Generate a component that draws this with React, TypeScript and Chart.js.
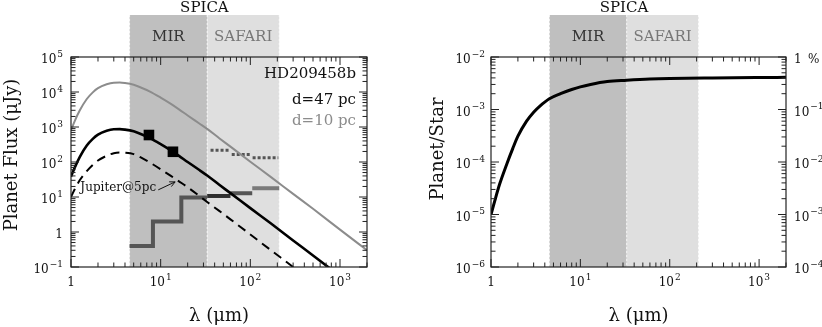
import React, { useEffect, useRef } from "react";
import { Chart, registerables } from "chart.js";

Chart.register(...registerables);

// ---------------- data ----------------
const wavelength = [1, 1.1, 1.25, 1.5, 1.75, 2, 2.5, 3, 3.5, 4, 5, 6, 7.5, 10, 13, 16, 20, 27, 33, 45, 60, 100, 170, 300, 500, 1000, 2000];
const fluxAt10pc = [813, 1479, 2951, 6310, 9772, 12882, 16596, 18408, 18621, 17989, 16032, 13490, 10471, 6918, 4571, 3199, 2138, 1259, 881, 479, 275, 102, 37, 12.3, 4.6, 1.17, 0.3];
const fluxAt47pc = [38, 69, 138, 295, 457, 603, 776, 861, 871, 841, 750, 631, 490, 324, 214, 150, 100, 59, 41, 22.4, 12.9, 4.8, 1.74, 0.575, 0.214, 0.055, 0.0141];
const fluxJupiter5pc = [10, 16.6, 30, 55, 83, 110, 151, 178, 186, 184, 168, 135, 98, 62, 40, 28, 19, 10.7, 7.2, 4.0, 2.3, 0.85, 0.3, 0.1, 0.036, 0.0093, 0.0024];

const photometryWavelength = [7.4, 13.7];
const photometryFlux = [590, 196];

const mirBinEdges = [4.5, 8.2, 17, 33];
const mirSensitivity = [0.4, 2.0, 9.6];
const safariBinEdges = [33, 60, 105, 210];
const safariSensitivity = [10.7, 12.8, 17.8];
const safariLineStart = [36, 62, 106];
const safariLineEnd = [59, 100, 205];
const safariLineFlux = [215, 165, 133];

const ratioWavelength = [1, 1.1, 1.25, 1.5, 1.75, 2, 2.5, 3, 3.5, 4.5, 6, 8, 10, 13, 20, 33, 60, 100, 300, 1000, 2000];
const planetStarRatio = [1.0e-5, 1.8e-5, 3.8e-5, 9.1e-5, 1.8e-4, 3.1e-4, 6.0e-4, 8.9e-4, 1.15e-3, 1.6e-3, 2.0e-3, 2.4e-3, 2.7e-3, 3.0e-3, 3.4e-3, 3.6e-3, 3.8e-3, 3.9e-3, 4.0e-3, 4.07e-3, 4.1e-3];

const mirBand = [4.5, 33];
const safariBand = [33, 210];
const xTickExponents = [0, 1, 2, 3];
const fluxTickExponents = [-1, 0, 1, 2, 3, 4, 5];
const ratioTickExponents = [-6, -5, -4, -3, -2];
const percentTickExponents = [-4, -3, -2, -1, 0];

// ---------------- styling helpers ----------------
const SERIF = '"DejaVu Serif", "Liberation Serif", serif';
const TICK_FONT = 12;
const TITLE_FONT = 18;

function drawPower(ctx: CanvasRenderingContext2D, exp: number, x: number, y: number, align: "left" | "right" | "center") {
  ctx.save();
  ctx.fillStyle = "#111";
  ctx.textBaseline = "middle";
  ctx.textAlign = "left";
  const baseFont = `${TICK_FONT}px ${SERIF}`;
  const supFont = `${Math.round(TICK_FONT * 0.72)}px ${SERIF}`;
  const base = exp === 0 ? "1" : "10";
  const sup = exp === 0 ? "" : exp < 0 ? "\u2212" + -exp : String(exp);
  ctx.font = baseFont;
  const wb = ctx.measureText(base).width;
  ctx.font = supFont;
  const ws = sup ? ctx.measureText(sup).width + 1 : 0;
  const total = wb + ws;
  const left = align === "left" ? x : align === "right" ? x - total : x - total / 2;
  ctx.font = baseFont;
  ctx.fillText(base, left, y);
  if (sup) {
    ctx.font = supFont;
    ctx.fillText(sup, left + wb + 1, y - TICK_FONT * 0.45);
  }
  ctx.restore();
}

function logValues(min: number, max: number) {
  const out: { v: number; major: boolean }[] = [];
  const d0 = Math.floor(Math.log10(min));
  const d1 = Math.ceil(Math.log10(max));
  for (let d = d0; d <= d1; d++) {
    for (let k = 1; k <= 9; k++) {
      const v = k * Math.pow(10, d);
      if (v >= min * (1 - 1e-9) && v <= max * (1 + 1e-9)) out.push({ v, major: k === 1 });
    }
  }
  return out;
}

function seg(ctx: CanvasRenderingContext2D, x0: number, y0: number, x1: number, y1: number) {
  ctx.beginPath();
  ctx.moveTo(x0, y0);
  ctx.lineTo(x1, y1);
  ctx.stroke();
}

function drawFrame(chart: any, leftId: string, rightId: string) {
  const { ctx, chartArea: a } = chart;
  ctx.save();
  ctx.strokeStyle = "#222";
  ctx.lineWidth = 1.2;
  ctx.strokeRect(a.left, a.top, a.right - a.left, a.bottom - a.top);
  ctx.lineWidth = 1;
  const xs = chart.scales.x;
  for (const t of logValues(xs.min, xs.max)) {
    const p = xs.getPixelForValue(t.v);
    const len = t.major ? 8 : 4.5;
    seg(ctx, p, a.bottom, p, a.bottom - len);
    seg(ctx, p, a.top, p, a.top + len);
  }
  const yl = chart.scales[leftId];
  for (const t of logValues(yl.min, yl.max)) {
    const p = yl.getPixelForValue(t.v);
    const len = t.major ? 8 : 4.5;
    seg(ctx, a.left, p, a.left + len, p);
  }
  const yr = chart.scales[rightId];
  for (const t of logValues(yr.min, yr.max)) {
    const p = yr.getPixelForValue(t.v);
    const len = t.major ? 8 : 4.5;
    seg(ctx, a.right, p, a.right - len, p);
  }
  ctx.restore();
}

function drawBands(chart: any) {
  const { ctx, chartArea: a } = chart;
  const xs = chart.scales.x;
  const top = 15;
  const m0 = xs.getPixelForValue(mirBand[0]);
  const m1 = xs.getPixelForValue(mirBand[1]);
  const s0 = xs.getPixelForValue(safariBand[0]);
  const s1 = xs.getPixelForValue(safariBand[1]);
  ctx.save();
  ctx.fillStyle = "#bfbfbf";
  ctx.fillRect(m0, top, m1 - m0, a.bottom - top);
  ctx.fillStyle = "#dfdfdf";
  ctx.fillRect(s0, top, s1 - s0, a.bottom - top);
  ctx.strokeStyle = "rgba(255,255,255,0.75)";
  ctx.lineWidth = 1;
  ctx.setLineDash([2, 2]);
  for (const px of [m0, m1, s1]) seg(ctx, px, top, px, a.bottom);
  ctx.setLineDash([]);
  ctx.font = `15px ${SERIF}`;
  ctx.textAlign = "center";
  ctx.textBaseline = "middle";
  ctx.fillStyle = "#111";
  ctx.fillText("SPICA", (m0 + s1) / 2, 8);
  ctx.fillStyle = "#333";
  ctx.fillText("MIR", (m0 + m1) / 2, 37);
  ctx.fillStyle = "#777";
  ctx.fillText("SAFARI", (s0 + s1) / 2, 37);
  ctx.restore();
}

function drawXLabels(chart: any) {
  const { ctx, chartArea: a } = chart;
  const xs = chart.scales.x;
  for (const e of xTickExponents) drawPower(ctx, e, xs.getPixelForValue(Math.pow(10, e)), a.bottom + 16, "center");
  ctx.save();
  ctx.font = `${TITLE_FONT}px ${SERIF}`;
  ctx.fillStyle = "#111";
  ctx.textAlign = "center";
  ctx.textBaseline = "middle";
  ctx.fillText("\u03bb (\u03bcm)", (a.left + a.right) / 2, 316);
  ctx.restore();
}

function drawVerticalTitle(ctx: CanvasRenderingContext2D, text: string, x: number, y: number) {
  ctx.save();
  ctx.translate(x, y);
  ctx.rotate(-Math.PI / 2);
  ctx.font = `${TITLE_FONT}px ${SERIF}`;
  ctx.fillStyle = "#111";
  ctx.textAlign = "center";
  ctx.textBaseline = "middle";
  ctx.fillText(text, 0, 0);
  ctx.restore();
}

const jupiterNote = { text: "Jupiter@5pc", textAt: [8.9, 18], tail: [9.4, 16], tip: [14.5, 27] };

const leftDecor = {
  id: "leftDecor",
  beforeDatasetsDraw(chart: any) {
    drawBands(chart);
  },
  afterDraw(chart: any) {
    const { ctx, chartArea: a } = chart;
    const xs = chart.scales.x;
    const ys = chart.scales.y;
    drawFrame(chart, "y", "y");
    for (const e of fluxTickExponents) drawPower(ctx, e, a.left - 8, ys.getPixelForValue(Math.pow(10, e)) + 3, "right");
    drawXLabels(chart);
    drawVerticalTitle(ctx, "Planet Flux (\u03bcJy)", 12, 155);
    ctx.save();
    ctx.font = `15px ${SERIF}`;
    ctx.textAlign = "right";
    ctx.textBaseline = "middle";
    ctx.fillStyle = "#111";
    ctx.fillText("HD209458b", a.right - 11, 74);
    ctx.fillText("d=47 pc", a.right - 11, 100);
    ctx.fillStyle = "#8c8c8c";
    ctx.fillText("d=10 pc", a.right - 11, 121);
    // Jupiter annotation
    ctx.font = `12px ${SERIF}`;
    ctx.fillStyle = "#111";
    ctx.fillText(jupiterNote.text, xs.getPixelForValue(jupiterNote.textAt[0]), ys.getPixelForValue(jupiterNote.textAt[1]));
    const tx = xs.getPixelForValue(jupiterNote.tail[0]);
    const ty = ys.getPixelForValue(jupiterNote.tail[1]);
    const hx = xs.getPixelForValue(jupiterNote.tip[0]);
    const hy = ys.getPixelForValue(jupiterNote.tip[1]);
    ctx.strokeStyle = "#111";
    ctx.lineWidth = 1;
    seg(ctx, tx, ty, hx, hy);
    const ang = Math.atan2(hy - ty, hx - tx);
    for (const s of [-1, 1]) {
      const aa = ang + Math.PI + s * 0.45;
      seg(ctx, hx, hy, hx + 6 * Math.cos(aa), hy + 6 * Math.sin(aa));
    }
    ctx.restore();
  },
};

const rightDecor = {
  id: "rightDecor",
  beforeDatasetsDraw(chart: any) {
    drawBands(chart);
  },
  afterDraw(chart: any) {
    const { ctx, chartArea: a } = chart;
    const ys = chart.scales.y;
    const yp = chart.scales.yPct;
    drawFrame(chart, "y", "yPct");
    for (const e of ratioTickExponents) drawPower(ctx, e, a.left - 6, ys.getPixelForValue(Math.pow(10, e)) + 3, "right");
    for (const e of percentTickExponents) {
      const py = yp.getPixelForValue(Math.pow(10, e)) + 3;
      drawPower(ctx, e, a.right + 8, py, "left");
      if (e === 0) {
        ctx.save();
        ctx.font = `${TICK_FONT}px ${SERIF}`;
        ctx.fillStyle = "#111";
        ctx.textBaseline = "middle";
        ctx.textAlign = "left";
        ctx.fillText("%", a.right + 22, py);
        ctx.restore();
      }
    }
    drawXLabels(chart);
    drawVerticalTitle(ctx, "Planet/Star", 27, 149);
  },
};

function pts(xs: number[], ys: number[]) {
  return xs.map((x, i) => ({ x, y: ys[i] }));
}

function stepPts(edges: number[], vals: number[]) {
  const out = vals.map((v, i) => ({ x: edges[i], y: v }));
  out.push({ x: edges[edges.length - 1], y: vals[vals.length - 1] });
  return out;
}

const safariColors = ["#2e2e2e", "#555555", "#7a7a7a"];

function leftConfig(): any {
  const datasets: any[] = [
    {
      label: "photometry",
      data: pts(photometryWavelength, photometryFlux),
      showLine: false,
      pointStyle: "rect",
      pointRadius: 7.5,
      backgroundColor: "#000",
      borderColor: "#000",
      borderWidth: 0,
    },
    {
      label: "d=47 pc",
      data: pts(wavelength, fluxAt47pc),
      borderColor: "#000",
      borderWidth: 2.6,
      cubicInterpolationMode: "monotone",
      pointRadius: 0,
    },
    {
      label: "Jupiter@5pc",
      data: pts(wavelength, fluxJupiter5pc),
      borderColor: "#000",
      borderWidth: 2,
      borderDash: [9, 6],
      cubicInterpolationMode: "monotone",
      pointRadius: 0,
    },
    {
      label: "d=10 pc",
      data: pts(wavelength, fluxAt10pc),
      borderColor: "#8c8c8c",
      borderWidth: 2,
      cubicInterpolationMode: "monotone",
      pointRadius: 0,
    },
    {
      label: "MIR sensitivity",
      data: stepPts(mirBinEdges, mirSensitivity),
      stepped: "before",
      borderColor: "#555555",
      borderWidth: 4,
      borderJoinStyle: "miter",
      pointRadius: 0,
    },
  ];
  safariSensitivity.forEach((v, i) => {
    datasets.push({
      label: "SAFARI sensitivity " + i,
      data: [
        { x: safariBinEdges[i], y: v },
        { x: safariBinEdges[i + 1], y: v },
      ],
      borderColor: safariColors[i],
      borderWidth: 4,
      pointRadius: 0,
    });
  });
  safariLineFlux.forEach((v, i) => {
    datasets.push({
      label: "SAFARI line " + i,
      data: [
        { x: safariLineStart[i], y: v },
        { x: safariLineEnd[i], y: v },
      ],
      borderColor: "#555555",
      borderWidth: 3,
      borderDash: [3, 2],
      pointRadius: 0,
    });
  });
  return {
    type: "line",
    data: { datasets },
    options: {
      responsive: false,
      animation: false,
      devicePixelRatio: 1,
      layout: { padding: { left: 71, right: 44, top: 57, bottom: 60 } },
      plugins: { legend: { display: false }, tooltip: { enabled: false } },
      scales: {
        x: { type: "logarithmic", min: 1, max: 2000, display: false },
        y: { type: "logarithmic", min: 0.1, max: 1e5, display: false },
      },
    },
    plugins: [leftDecor],
  };
}

function rightConfig(): any {
  return {
    type: "line",
    data: {
      datasets: [
        {
          label: "Planet/Star",
          data: pts(ratioWavelength, planetStarRatio),
          borderColor: "#000",
          borderWidth: 3,
          cubicInterpolationMode: "monotone",
          pointRadius: 0,
        },
      ],
    },
    options: {
      responsive: false,
      animation: false,
      devicePixelRatio: 1,
      layout: { padding: { left: 80, right: 36, top: 57, bottom: 60 } },
      plugins: { legend: { display: false }, tooltip: { enabled: false } },
      scales: {
        x: { type: "logarithmic", min: 1, max: 2000, display: false },
        y: { type: "logarithmic", min: 1e-6, max: 1e-2, display: false },
        yPct: { type: "logarithmic", position: "right", min: 1e-4, max: 1, display: false },
      },
    },
    plugins: [rightDecor],
  };
}

export default function App() {
  const leftRef = useRef<HTMLCanvasElement>(null);
  const rightRef = useRef<HTMLCanvasElement>(null);
  useEffect(() => {
    const c1 = new Chart(leftRef.current as HTMLCanvasElement, leftConfig());
    const c2 = new Chart(rightRef.current as HTMLCanvasElement, rightConfig());
    return () => {
      c1.destroy();
      c2.destroy();
    };
  }, []);
  return (
    <div style={{ position: "fixed", left: 0, top: 0, width: 822, height: 327, background: "#fff" }}>
      <canvas ref={leftRef} width={411} height={327} style={{ position: "absolute", left: 0, top: 0, width: 411, height: 327 }} />
      <canvas ref={rightRef} width={411} height={327} style={{ position: "absolute", left: 411, top: 0, width: 411, height: 327 }} />
    </div>
  );
}
